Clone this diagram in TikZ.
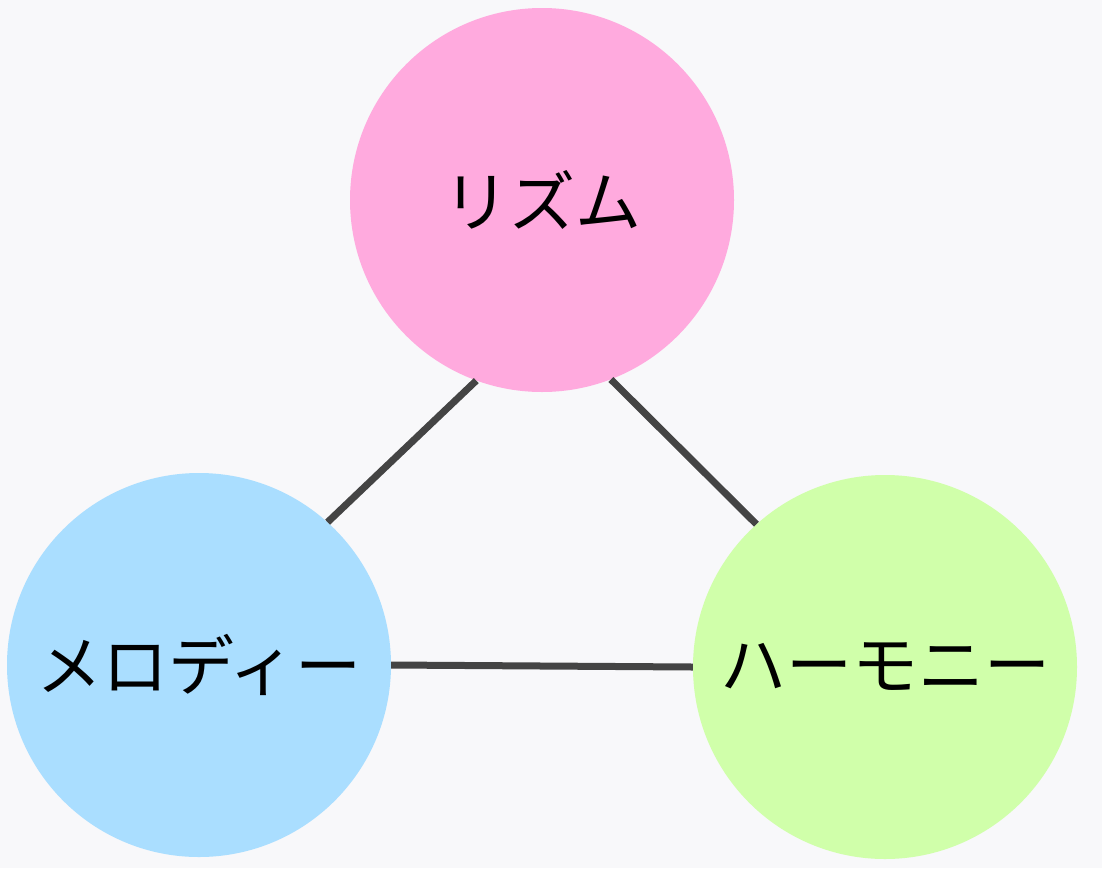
\documentclass[tikz,border=0pt]{standalone}
\usepackage{fontspec}
\newfontfamily\jpfont{Noto Sans CJK JP}
\usepackage{tikz}
\usetikzlibrary{positioning}
\definecolor{bgcol}{HTML}{F8F8FA}
\definecolor{pinkc}{HTML}{FFAADE}
\definecolor{bluec}{HTML}{AADEFF}
\definecolor{greenc}{HTML}{D0FFAA}
\definecolor{linec}{HTML}{444444}

\begin{document}
\begin{tikzpicture}[
  x=1pt, y=-1pt,
  font=\jpfont\fontsize{66}{70}\selectfont,
  ball/.style={circle, minimum size=384pt, inner sep=0pt, draw=none},
  link/.style={draw=linec, line width=7pt}
]
\fill[bgcol] (0,0) rectangle (1102,868);
\useasboundingbox (0,0) rectangle (1102,868);

\node[ball, fill=pinkc]  (rhythm)  at (542,200) {リズム};
\node[ball, fill=bluec]  (melody)  at (199,665) {メロディー};
\node[ball, fill=greenc] (harmony) at (885,667) {ハーモニー};

\draw[link] (rhythm.250) -- (melody.48);
\draw[link] (rhythm.291) -- (harmony.132);
\draw[link] (melody.east) -- (harmony.west);
\end{tikzpicture}
\end{document}
